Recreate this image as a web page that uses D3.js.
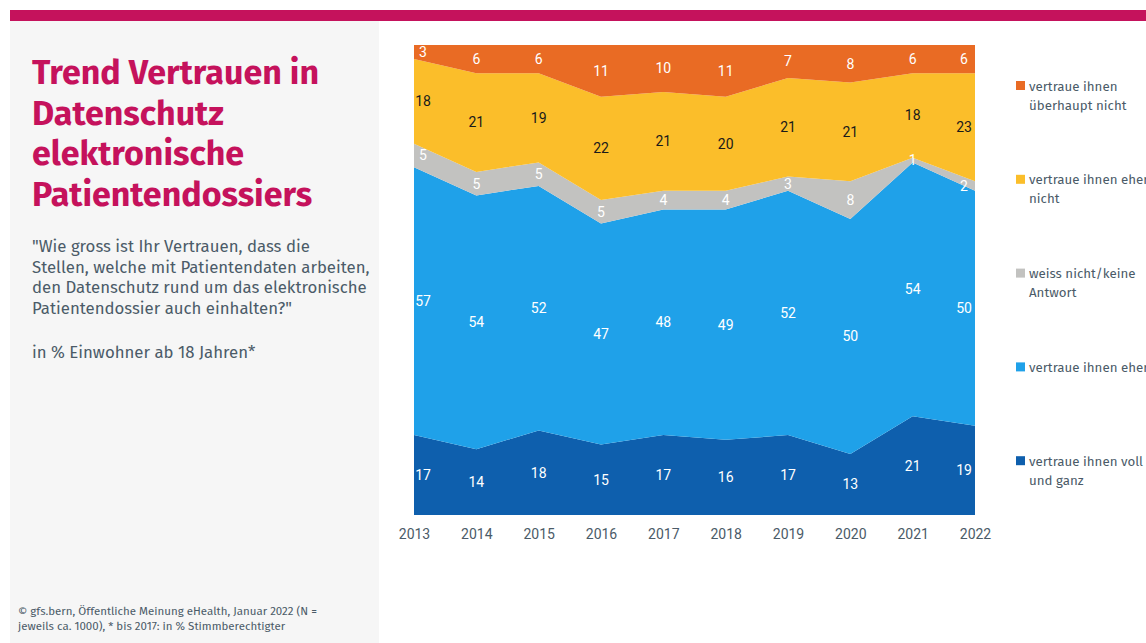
<!DOCTYPE html>
<html><head><meta charset="utf-8">
<script src="https://cdn.jsdelivr.net/npm/d3@7"></script>
<style>
body{margin:0;background:#fff;}
svg{display:block;font-family:"Fira Sans","Noto Sans",sans-serif;}
</style></head><body>
<svg id="c" width="1146" height="643"></svg>
<script>
const years = ["2013","2014","2015","2016","2017","2018","2019","2020","2021","2022"];
const seriesNames = ["vertraue ihnen voll und ganz","vertraue ihnen eher","weiss nicht/keine Antwort","vertraue ihnen eher nicht","vertraue ihnen überhaupt nicht"];
const vollUndGanz = [17,14,18,15,17,16,17,13,21,19];
const eher        = [57,54,52,47,48,49,52,50,54,50];
const weissNicht  = [5,5,5,5,4,4,3,8,1,2];
const eherNicht   = [18,21,19,22,21,20,21,21,18,23];
const ueberhauptNicht = [3,6,6,11,10,11,7,8,6,6];
const colors = ["#0e5fad","#1fa1e9","#c2c2c0","#fbbe2a","#e96b24"];
const labelColors = ["#fff","#fff","#fff","#1a1a1a","#fff"];
const legendLines = [["vertraue ihnen voll","und ganz"],["vertraue ihnen eher"],["weiss nicht/keine","Antwort"],["vertraue ihnen eher","nicht"],["vertraue ihnen","überhaupt nicht"]];

const seriesVals = [vollUndGanz, eher, weissNicht, eherNicht, ueberhauptNicht];
const rows = years.map((y,i)=>{const r={year:y}; seriesNames.forEach((s,k)=>r[s]=seriesVals[k][i]); return r;});
const stack = d3.stack().keys(seriesNames)(rows);

const svg = d3.select("#c");
const textCol = "#4b5b68";
svg.append("rect").attr("x",10).attr("y",10).attr("width",1136).attr("height",11).attr("fill","#c5125c");
svg.append("rect").attr("x",10).attr("y",21).attr("width",369).attr("height",622).attr("fill","#f6f6f6");

const title = ["Trend Vertrauen in","Datenschutz","elektronische","Patientendossiers"];
svg.append("g").selectAll("text").data(title).join("text")
  .attr("x",32).attr("y",(d,i)=>84+i*40.5).attr("fill","#c5125c")
  .attr("font-size",34).attr("font-weight",700).text(d=>d);
const sub = ['"Wie gross ist Ihr Vertrauen, dass die','Stellen, welche mit Patientendaten arbeiten,','den Datenschutz rund um das elektronische','Patientendossier auch einhalten?"'];
svg.append("g").selectAll("text").data(sub).join("text")
  .attr("x",32).attr("y",(d,i)=>252+i*20.5).attr("fill",textCol)
  .attr("font-size",16.8).text(d=>d);
svg.append("text").attr("x",32).attr("y",358).attr("fill",textCol).attr("font-size",16.8).text("in % Einwohner ab 18 Jahren*");
const foot = ["© gfs.bern, Öffentliche Meinung eHealth, Januar 2022 (N =","jeweils ca. 1000), * bis 2017: in % Stimmberechtigter"];
svg.append("g").selectAll("text").data(foot).join("text")
  .attr("x",18).attr("y",(d,i)=>615+i*15).attr("fill",textCol)
  .attr("font-size",11.5).text(d=>d);

const x = d3.scalePoint().domain(years).range([414,975]);
const y = d3.scaleLinear().domain([0,100]).range([515,45]);
const area = d3.area().x(d=>x(d.data.year)).y0(d=>y(d[0])).y1(d=>y(d[1]));
svg.append("g").selectAll("path").data(stack).join("path")
  .attr("d",area).attr("fill",(d,i)=>colors[i]);

const lg = svg.append("g").attr("font-size",14).attr("text-anchor","middle").attr("font-family","Roboto, sans-serif");
stack.forEach((s,k)=>{
  s.forEach((d,i)=>{
    const v = seriesVals[k][i];
    let xp = x(d.data.year);
    if(i===0) xp += 9; if(i===years.length-1) xp -= 11;
    lg.append("text").attr("x",xp).attr("y",y((d[0]+d[1])/2)).attr("dy","0.35em")
      .attr("fill",labelColors[k]).text(v);
  });
});

const ax = d3.axisBottom(x).tickSize(0).tickPadding(14);
const axg = svg.append("g").attr("transform","translate(0,515)").call(ax);
axg.select(".domain").remove();
axg.selectAll("text").attr("fill",textCol).attr("font-size",14).attr("font-family","Roboto, sans-serif");

const leg = svg.append("g");
const order = [4,3,2,1,0];
order.forEach((k,j)=>{
  const yy = 86 + j*93.8;
  leg.append("rect").attr("x",1016).attr("y",yy-5).attr("width",9).attr("height",9).attr("fill",colors[k]);
  legendLines[k].forEach((l,m)=>{
    leg.append("text").attr("x",1029).attr("y",yy+m*19).attr("dy","0.35em").attr("fill",textCol)
      .attr("font-size",13.3).text(l);
  });
});
</script></body></html>
